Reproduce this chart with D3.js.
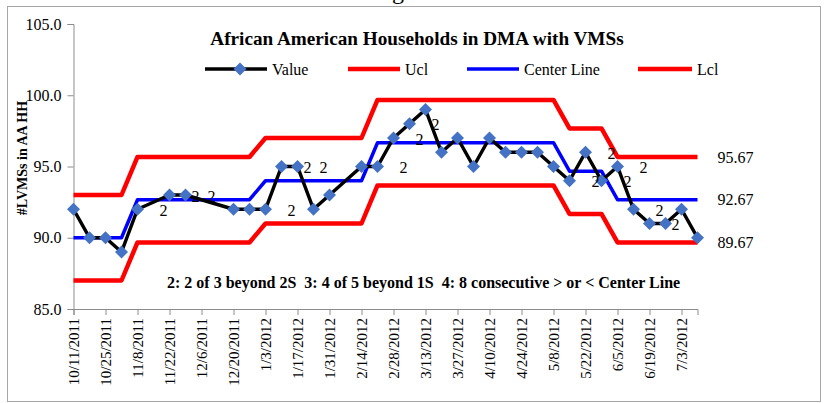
<!DOCTYPE html>
<html>
<head>
<meta charset="utf-8">
<script src="https://cdn.jsdelivr.net/npm/d3@7"></script>
<style>
  body { margin: 0; background: #fff; }
</style>
</head>
<body>
<div id="chart"></div>
<script>
var dates = ["10/11/2011", "10/18/2011", "10/25/2011", "11/1/2011", "11/8/2011", "11/22/2011",
  "11/29/2011", "12/20/2011", "12/27/2011", "1/3/2012", "1/10/2012", "1/17/2012", "1/24/2012",
  "1/31/2012", "2/14/2012", "2/21/2012", "2/28/2012", "3/6/2012", "3/13/2012", "3/20/2012",
  "3/27/2012", "4/3/2012", "4/10/2012", "4/17/2012", "4/24/2012", "5/1/2012", "5/8/2012",
  "5/15/2012", "5/22/2012", "5/29/2012", "6/5/2012", "6/12/2012", "6/19/2012", "6/26/2012",
  "7/3/2012", "7/10/2012"];

var values = [92, 90, 90, 89, 92, 93, 93, 92, 92, 92, 95, 95, 92, 93, 95, 95, 97, 98, 99, 96,
  97, 95, 97, 96, 96, 96, 95, 94, 96, 94, 95, 92, 91, 91, 92, 90];

var ucl = [93, 93, 93, 93, 95.67, 95.67, 95.67, 95.67, 95.67, 97, 97, 97, 97, 97, 97,
  99.67, 99.67, 99.67, 99.67, 99.67, 99.67, 99.67, 99.67, 99.67, 99.67, 99.67, 99.67,
  97.67, 97.67, 97.67, 95.67, 95.67, 95.67, 95.67, 95.67, 95.67];

var center = [90, 90, 90, 90, 92.67, 92.67, 92.67, 92.67, 92.67, 94, 94, 94, 94, 94, 94,
  96.67, 96.67, 96.67, 96.67, 96.67, 96.67, 96.67, 96.67, 96.67, 96.67, 96.67, 96.67,
  94.67, 94.67, 94.67, 92.67, 92.67, 92.67, 92.67, 92.67, 92.67];

var lcl = [87, 87, 87, 87, 89.67, 89.67, 89.67, 89.67, 89.67, 91, 91, 91, 91, 91, 91,
  93.67, 93.67, 93.67, 93.67, 93.67, 93.67, 93.67, 93.67, 93.67, 93.67, 93.67, 93.67,
  91.67, 91.67, 91.67, 89.67, 89.67, 89.67, 89.67, 89.67, 89.67];

// points flagged by rule 2 (2 of 3 beyond 2S)
var ruleDates = ["11/8/2011", "11/22/2011", "11/29/2011", "1/3/2012", "1/10/2012", "1/17/2012",
  "2/21/2012", "2/28/2012", "3/6/2012", "5/15/2012", "5/22/2012", "5/29/2012", "6/5/2012",
  "6/12/2012", "6/19/2012"];
var ruleLabels = ["2", "2", "2", "2", "2", "2", "2", "2", "2", "2", "2", "2", "2", "2", "2"];

var tickLabels = ["10/11/2011", "10/25/2011", "11/8/2011", "11/22/2011", "12/6/2011", "12/20/2011",
  "1/3/2012", "1/17/2012", "1/31/2012", "2/14/2012", "2/28/2012", "3/13/2012", "3/27/2012",
  "4/10/2012", "4/24/2012", "5/8/2012", "5/22/2012", "6/5/2012", "6/19/2012", "7/3/2012"];
var yTicks = [85, 90, 95, 100, 105];

var seriesNames = ["Value", "Ucl", "Center Line", "Lcl"];
var seriesColors = ["#000000", "#ff0000", "#0000ff", "#ff0000"];

var serif = "'Liberation Serif', 'Times New Roman', Times, 'DejaVu Serif', serif";
var parse = d3.timeParse("%m/%d/%Y");
var width = 827, height = 403;

var svg = d3.select("#chart").append("svg")
  .attr("width", width)
  .attr("height", height)
  .style("font-family", serif);

svg.append("rect")
  .attr("x", 7.5).attr("y", 6.5)
  .attr("width", 813).attr("height", 395)
  .style("fill", "#fff")
  .style("stroke", "#a6a6a6");

// cut-off heading above the chart box
svg.append("text")
  .attr("x", 398).attr("y", -1)
  .attr("text-anchor", "middle")
  .style("font-size", "24px")
  .text("g");

var x = d3.scaleTime()
  .domain([parse("10/11/2011"), parse("7/10/2012")])
  .range([73.5, 697.5]);

var y = d3.scaleLinear()
  .domain([85, 105])
  .range([309, 24]);

var xAxis = svg.append("g")
  .attr("transform", "translate(0," + y(85) + ")")
  .call(d3.axisBottom(x)
    .tickValues(tickLabels.map(parse))
    .tickSize(6)
    .tickFormat(d3.timeFormat("%-m/%-d/%Y")));
xAxis.selectAll("text")
  .attr("transform", "rotate(-90)")
  .attr("x", -9)
  .attr("y", 0)
  .attr("dy", "0.35em")
  .style("text-anchor", "end")
  .style("font-size", "15px")
  .style("fill", "#000");

var yAxis = svg.append("g")
  .attr("transform", "translate(" + x.range()[0] + ",0)")
  .call(d3.axisLeft(y)
    .tickValues(yTicks)
    .tickSize(6)
    .tickPadding(6)
    .tickFormat(d3.format(".1f")));
yAxis.selectAll("text")
  .style("font-size", "16px")
  .style("fill", "#000");

svg.selectAll(".domain, .tick line")
  .style("stroke", "#8c8c8c");

svg.append("text")
  .attr("transform", "translate(22,158) rotate(-90)")
  .attr("text-anchor", "middle")
  .attr("dy", "0.35em")
  .style("font-size", "14px")
  .style("font-weight", "bold")
  .text("#LVMSs in AA HH");

svg.append("text")
  .attr("x", 417).attr("y", 45)
  .attr("text-anchor", "middle")
  .style("font-size", "19.2px")
  .style("font-weight", "bold")
  .text("African American Households in DMA with VMSs");

var pts = dates.map(function(d, i) {
  return {
    date: parse(d), value: values[i], ucl: ucl[i], center: center[i], lcl: lcl[i]
  };
});

function lineFor(key) {
  return d3.line()
    .x(function(d) { return x(d.date); })
    .y(function(d) { return y(d[key]); });
}

var lineStyles = [
  { key: "ucl", color: seriesColors[1], w: 4.5 },
  { key: "lcl", color: seriesColors[3], w: 4.5 },
  { key: "center", color: seriesColors[2], w: 3.5 },
  { key: "value", color: seriesColors[0], w: 3.5 }
];

lineStyles.forEach(function(s) {
  svg.append("path")
    .datum(pts)
    .attr("d", lineFor(s.key))
    .style("fill", "none")
    .style("stroke", s.color)
    .style("stroke-width", s.w)
    .style("stroke-linejoin", "round");
});

var diamond = "M0,-6.5L6.5,0L0,6.5L-6.5,0Z";

svg.selectAll(".pt")
  .data(pts)
  .enter().append("path")
  .attr("class", "pt")
  .attr("d", diamond)
  .attr("transform", function(d) {
    return "translate(" + x(d.date) + "," + y(d.value) + ")";
  })
  .style("fill", "#4472c4");

// rule labels sit a little to the right of the flagged point
var ruleData = ruleDates.map(function(d, i) {
  var p = pts.find(function(q) { return +q.date == +parse(d); });
  return { date: p.date, value: p.value, label: ruleLabels[i] };
});

svg.selectAll(".rule")
  .data(ruleData)
  .enter().append("text")
  .attr("class", "rule")
  .attr("x", function(d) { return x(d.date) + 26; })
  .attr("y", function(d) { return y(d.value) + 1; })
  .attr("dy", "0.35em")
  .attr("text-anchor", "middle")
  .style("font-size", "16px")
  .text(function(d) { return d.label; });

// last values of the control lines
var last = pts[pts.length - 1];
svg.selectAll(".endlab")
  .data([last.ucl, last.center, last.lcl])
  .enter().append("text")
  .attr("class", "endlab")
  .attr("x", x(last.date) + 20)
  .attr("y", function(d) { return y(d); })
  .attr("dy", "0.35em")
  .style("font-size", "16px")
  .text(function(d) { return d3.format(".2f")(d); });

svg.append("text")
  .attr("x", 167).attr("y", 288)
  .style("font-size", "16px")
  .style("font-weight", "bold")
  .style("white-space", "pre")
  .text("2: 2 of 3 beyond 2S  3: 4 of 5 beyond 1S  4: 8 consecutive > or < Center Line");

// legend
var legendX = [205, 348, 467, 638];
var legendW = [62, 52, 52, 54];
var legend = svg.selectAll(".legend")
  .data(seriesNames)
  .enter().append("g")
  .attr("class", "legend")
  .attr("transform", function(d, i) { return "translate(" + legendX[i] + ",69)"; });

legend.append("line")
  .attr("x1", 0)
  .attr("x2", function(d, i) { return legendW[i]; })
  .style("stroke", function(d, i) { return seriesColors[i]; })
  .style("stroke-width", function(d, i) { return i == 0 || i == 2 ? 3.5 : 4.5; });

legend.filter(function(d, i) { return i == 0; })
  .append("path")
  .attr("d", diamond)
  .attr("transform", "translate(35,0)")
  .style("fill", "#4472c4");

legend.append("text")
  .attr("x", function(d, i) { return legendW[i] + 5; })
  .attr("dy", "0.35em")
  .style("font-size", "16px")
  .text(function(d) { return d; });

// axis groups carry their own font attributes; force the serif face everywhere
svg.selectAll("g").attr("font-family", null);
svg.selectAll("text").style("font-family", serif);
</script>
</body>
</html>
